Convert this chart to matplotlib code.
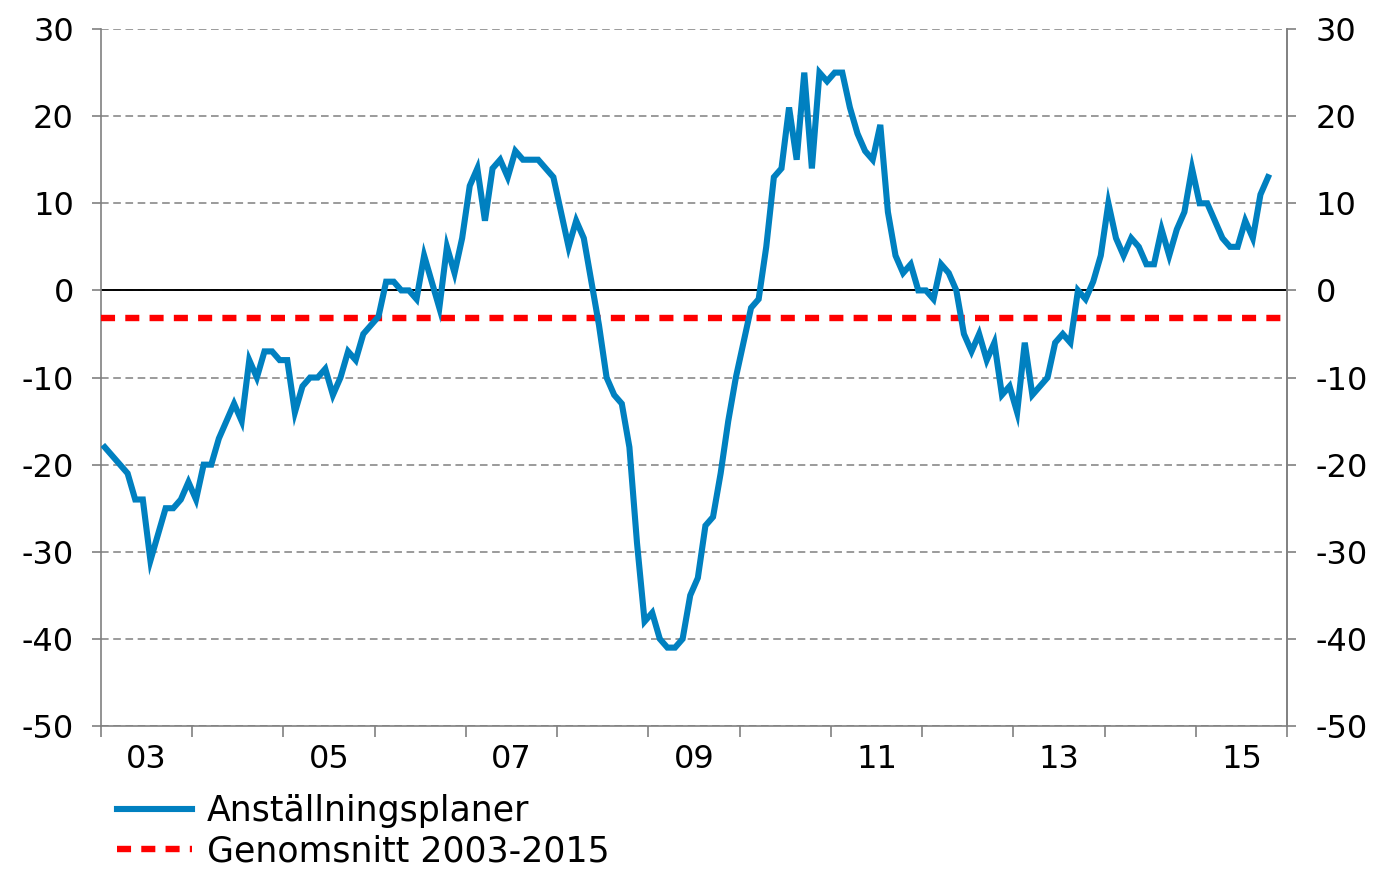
import numpy as np
import matplotlib
matplotlib.use('Agg')
import matplotlib.pyplot as plt
from matplotlib.ticker import FixedLocator, FixedFormatter, NullFormatter

plt.rcParams['font.family'] = ['DejaVu Sans']
plt.rcParams['axes.unicode_minus'] = False

# monthly values, Jan 2003 - Oct 2015
plans_2003 = [-18, -19, -20, -21, -24, -24, -31, -28, -25, -25, -24, -22]
plans_2004 = [-24, -20, -20, -17, -15, -13, -15, -8, -10, -7, -7, -8]
plans_2005 = [-8, -14, -11, -10, -10, -9, -12, -10, -7, -8, -5, -4]
plans_2006 = [-3, 1, 1, 0, 0, -1, 4, 1, -2, 5, 2, 6]
plans_2007 = [12, 14, 8, 14, 15, 13, 16, 15, 15, 15, 14, 13]
plans_2008 = [9, 5, 8, 6, 1, -4, -10, -12, -13, -18, -29, -38]
plans_2009 = [-37, -40, -41, -41, -40, -35, -33, -27, -26, -21, -15, -10]
plans_2010 = [-6, -2, -1, 5, 13, 14, 21, 15, 25, 14, 25, 24]
plans_2011 = [25, 25, 21, 18, 16, 15, 19, 9, 4, 2, 3, 0]
plans_2012 = [0, -1, 3, 2, 0, -5, -7, -5, -8, -6, -12, -11]
plans_2013 = [-14, -6, -12, -11, -10, -6, -5, -6, 0, -1, 1, 4]
plans_2014 = [10, 6, 4, 6, 5, 3, 3, 7, 4, 7, 9, 14]
plans_2015 = [10, 10, 8, 6, 5, 5, 8, 6, 11, 13]
average = -3.2

year_labels = ['03', '05', '07', '09', '11', '13', '15']
y_ticks = [30, 20, 10, 0, -10, -20, -30, -40, -50]

plans = (plans_2003 + plans_2004 + plans_2005 + plans_2006 + plans_2007 +
         plans_2008 + plans_2009 + plans_2010 + plans_2011 + plans_2012 +
         plans_2013 + plans_2014 + plans_2015)
x = 2003 + (np.arange(len(plans)) + 0.5) / 12.0

fig = plt.figure(figsize=(13.78, 8.72), dpi=100)
ax = fig.add_axes([0.0733, 0.1674, 0.8607, 0.7993])
ax2 = ax.twinx()

blue = '#0080c0'
ax.axhline(0, color='black', lw=1.4, zorder=2)
l1, = ax.plot(x, plans, color=blue, lw=4.4, solid_joinstyle='miter', zorder=4,
              label='Anställningsplaner')
l2, = ax.plot([2003, 2016], [average, average], color='#ff0000', lw=4.6,
              dashes=(2.2, 1.6), zorder=3, label='Genomsnitt 2003-2015')

ax.set_xlim(2003, 2016)
for a in (ax, ax2):
    a.set_ylim(-50, 30)
    a.set_yticks(y_ticks)
    for s in a.spines.values():
        s.set_color('#808080')
        s.set_linewidth(1.2)
    a.spines['top'].set_visible(False)

ax.grid(axis='y', color='#808080', linestyle=(0, (5, 3)), lw=1.1)
ax.set_axisbelow(True)

ax.xaxis.set_major_locator(FixedLocator(np.arange(2003, 2017)))
ax.xaxis.set_major_formatter(NullFormatter())
ax.xaxis.set_minor_locator(FixedLocator([2003.5 + 2 * i for i in range(7)]))
ax.xaxis.set_minor_formatter(FixedFormatter(year_labels))
ax.tick_params(axis='x', which='major', length=8, width=1.2, color='#808080')
ax.tick_params(axis='x', which='minor', length=0, pad=13, labelsize=23)

ax.tick_params(axis='y', length=6.5, width=1.2, color='#808080', labelsize=23, pad=13)
ax2.tick_params(axis='y', length=6.5, width=1.2, color='#808080', labelsize=23, pad=14)
ax2.spines['left'].set_visible(False)
ax2.spines['bottom'].set_visible(False)

fig.legend(handles=[l1, l2], loc='upper left', bbox_to_anchor=(0.085, 0.089),
           frameon=False, fontsize=25, handlelength=2.16, handletextpad=0.43,
           labelspacing=0.18, borderpad=0, borderaxespad=0)

fig.savefig('out.png', dpi=100)
